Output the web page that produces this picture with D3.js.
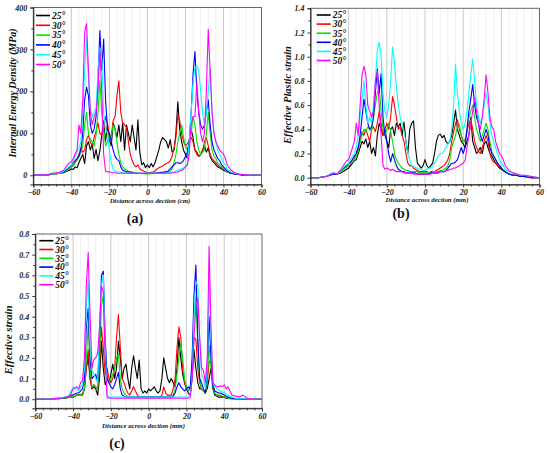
<!DOCTYPE html>
<html>
<head>
<meta charset="utf-8">
<script src="https://cdn.jsdelivr.net/npm/d3@7"></script>
<style>
  body { margin: 0; background: #fff; }
  svg { display: block; }
  text { font-family: "Liberation Serif", "Times New Roman", serif; font-weight: bold; font-style: italic; }
</style>
</head>
<body>
<svg id="chart" width="550" height="453"></svg>
<script>
// sample positions along the section (shared by every series)
const XS = [-60, -56, -52, -50, -48, -46, -44, -42,
  -41, -40, -39, -38, -37, -36, -35, -34, -33, -32,
  -31, -30, -29, -28, -27, -26, -25, -24, -23, -22,
  -21, -20, -19, -18, -17, -16, -15, -14, -13, -12,
  -11, -10, -9, -8, -7, -6, -5, -4, -3, -2,
  -1, 0, 1, 2, 3, 4, 5, 6, 7, 8,
  9, 10, 11, 12, 13, 14, 15, 16, 17, 18,
  19, 20, 21, 22, 23, 24, 25, 26, 27, 28,
  29, 30, 31, 32, 33, 34, 35, 36, 37, 38,
  39, 40, 41,
  42, 44, 46, 48, 50, 52, 56, 60];

const ANGLES = ['25°', '30°', '35°', '40°', '45°', '50°'];
const COLORS = ['#000000', '#ff0000', '#00e400', '#0000ff', '#00ffff', '#ff00ff'];

// (a) internal energy density, MPa
const IED_25 = [0,0,1,4,3,5,6,10,
  12,15,14,20,18,30,40,50,28,70,
  80,60,75,40,62,35,58,95,130,80,
  120,85,70,125,110,90,120,80,125,60,
  120,100,80,120,90,60,132,55,25,30,
  18,25,18,28,20,30,45,60,80,90,
  85,80,65,85,55,60,100,175,110,80,
  60,50,40,75,110,90,60,55,45,50,
  60,70,55,65,45,35,30,25,20,18,
  15,12,10,
  8,5,3,2,1,0,0,0];
const IED_30 = [0,0,1,3,4,5,8,12,
  15,20,25,30,40,50,65,55,60,85,
  95,80,70,90,105,125,100,95,110,140,
  125,85,95,130,140,190,225,150,125,120,
  115,80,50,35,25,20,25,15,12,10,
  8,6,5,7,8,10,15,18,20,22,
  25,28,30,35,45,65,90,145,130,100,
  80,70,75,85,90,80,60,50,45,50,
  55,80,90,70,50,40,35,30,25,20,
  18,15,12,
  8,5,3,2,1,0,0,0];
const IED_35 = [0,0,1,3,3,5,7,12,
  15,20,22,30,35,45,55,70,120,150,
  100,85,80,70,95,150,225,150,110,70,
  80,100,90,120,110,80,50,30,20,15,
  12,10,8,8,6,6,5,5,4,4,
  3,3,3,4,4,5,5,5,6,6,
  7,8,9,10,15,30,50,80,100,120,
  90,70,60,80,100,140,120,80,60,50,
  55,60,100,150,100,60,45,40,30,25,
  20,15,12,
  8,5,3,2,1,0,0,0];
const IED_40 = [0,1,2,4,5,5,8,15,
  20,25,30,35,40,45,60,100,180,210,
  190,120,100,110,140,220,345,250,325,180,
  110,100,80,60,45,38,35,20,12,10,
  8,8,7,6,5,5,5,5,5,5,
  5,5,5,5,5,5,6,6,7,7,
  8,8,10,15,20,25,30,30,28,30,
  35,45,55,80,150,240,295,200,150,120,
  110,120,150,180,120,80,60,50,40,35,
  25,20,15,
  10,5,3,2,1,0,0,0];
const IED_45 = [0,1,2,4,5,5,10,18,
  22,25,35,45,55,65,80,150,250,330,
  230,160,140,150,160,250,304,280,150,110,
  100,60,30,15,10,9,8,7,6,6,
  5,5,5,5,5,5,5,5,5,5,
  5,5,5,5,5,5,5,5,5,5,
  5,5,6,6,7,8,10,12,14,15,
  18,20,30,80,150,220,256,260,250,200,
  150,120,150,200,257,150,100,80,60,50,
  40,30,25,
  15,8,5,3,2,1,0,0];
const IED_50 = [0,1,2,5,6,8,12,25,
  30,32,40,50,60,120,100,180,340,362,
  250,150,120,140,150,200,300,200,50,10,
  8,8,7,6,6,5,5,5,5,5,
  5,5,5,5,5,5,5,5,5,5,
  5,5,5,5,5,5,5,5,5,5,
  5,5,5,5,6,6,7,8,10,12,
  15,20,25,50,120,140,140,222,150,100,
  80,100,200,348,250,150,100,80,70,60,
  55,50,40,
  25,12,6,3,2,1,0,0];

// (b) effective plastic strain
const EPS_25 = [0,0,0.01,0.02,0.03,0.03,0.04,0.06,
  0.07,0.08,0.1,0.12,0.14,0.15,0.2,0.25,0.3,0.28,
  0.32,0.25,0.3,0.2,0.25,0.18,0.35,0.45,0.4,0.35,
  0.4,0.3,0.25,0.4,0.42,0.35,0.45,0.42,0.45,0.35,
  0.46,0.3,0.2,0.4,0.45,0.47,0.25,0.12,0.1,0.08,
  0.1,0.15,0.1,0.08,0.1,0.12,0.2,0.3,0.35,0.36,
  0.33,0.35,0.3,0.28,0.3,0.35,0.45,0.56,0.4,0.35,
  0.3,0.28,0.25,0.3,0.35,0.5,0.3,0.25,0.2,0.22,
  0.25,0.2,0.28,0.3,0.25,0.2,0.18,0.15,0.12,0.1,
  0.08,0.07,0.06,
  0.05,0.03,0.02,0.02,0.01,0.01,0,0];
const EPS_30 = [0,0,0.01,0.02,0.03,0.03,0.05,0.08,
  0.09,0.1,0.12,0.15,0.17,0.2,0.25,0.3,0.38,0.35,
  0.4,0.35,0.3,0.4,0.42,0.38,0.45,0.55,0.45,0.35,
  0.4,0.45,0.4,0.5,0.67,0.6,0.5,0.4,0.42,0.35,
  0.3,0.2,0.12,0.1,0.1,0.08,0.07,0.06,0.05,0.05,
  0.05,0.05,0.05,0.04,0.05,0.05,0.05,0.06,0.07,0.08,
  0.09,0.1,0.12,0.15,0.2,0.3,0.38,0.45,0.48,0.4,
  0.35,0.3,0.3,0.38,0.45,0.48,0.4,0.3,0.25,0.22,
  0.2,0.25,0.3,0.35,0.3,0.2,0.15,0.13,0.12,0.1,
  0.09,0.08,0.06,
  0.05,0.03,0.02,0.02,0.01,0.01,0,0];
const EPS_35 = [0,0,0.01,0.02,0.03,0.03,0.05,0.08,
  0.09,0.1,0.12,0.13,0.15,0.18,0.22,0.3,0.35,0.4,
  0.38,0.42,0.4,0.38,0.5,0.6,0.7,0.75,0.55,0.4,
  0.35,0.4,0.45,0.38,0.3,0.2,0.15,0.12,0.1,0.08,
  0.07,0.06,0.06,0.05,0.05,0.05,0.05,0.05,0.04,0.04,
  0.04,0.04,0.04,0.04,0.04,0.05,0.05,0.05,0.05,0.06,
  0.06,0.07,0.08,0.1,0.15,0.25,0.3,0.35,0.42,0.44,
  0.35,0.3,0.32,0.4,0.5,0.55,0.6,0.5,0.4,0.35,
  0.3,0.35,0.4,0.45,0.4,0.3,0.22,0.18,0.15,0.12,
  0.1,0.08,0.06,
  0.05,0.03,0.02,0.02,0.01,0.01,0,0];
const EPS_40 = [0,0,0.01,0.02,0.03,0.03,0.06,0.09,
  0.1,0.12,0.13,0.15,0.18,0.2,0.25,0.35,0.5,0.65,
  0.55,0.45,0.4,0.42,0.5,0.7,0.9,0.7,0.86,0.5,
  0.35,0.3,0.2,0.13,0.2,0.15,0.1,0.07,0.06,0.05,
  0.05,0.04,0.04,0.04,0.04,0.04,0.04,0.03,0.03,0.03,
  0.03,0.03,0.03,0.03,0.04,0.04,0.04,0.04,0.04,0.05,
  0.05,0.05,0.06,0.08,0.1,0.12,0.12,0.13,0.15,0.2,
  0.25,0.2,0.25,0.4,0.55,0.65,0.77,0.6,0.5,0.45,
  0.35,0.3,0.35,0.4,0.35,0.25,0.2,0.18,0.15,0.12,
  0.1,0.08,0.06,
  0.05,0.03,0.02,0.02,0.01,0.01,0,0];
const EPS_45 = [0,0,0.01,0.03,0.04,0.03,0.06,0.1,
  0.11,0.12,0.15,0.18,0.2,0.25,0.35,0.5,0.65,0.8,
  0.6,0.45,0.5,0.45,0.6,0.8,1.05,1.12,1.0,0.7,
  0.55,0.5,0.6,0.8,1.08,0.95,0.75,0.6,0.5,0.45,
  0.38,0.3,0.2,0.15,0.1,0.09,0.08,0.08,0.07,0.07,
  0.06,0.06,0.07,0.08,0.08,0.1,0.12,0.15,0.18,0.2,
  0.2,0.22,0.25,0.28,0.3,0.4,0.6,0.94,0.7,0.55,
  0.45,0.4,0.45,0.55,0.7,0.85,0.98,0.8,0.6,0.5,
  0.45,0.5,0.6,0.7,0.6,0.45,0.35,0.3,0.25,0.2,
  0.15,0.12,0.1,
  0.07,0.05,0.04,0.03,0.02,0.02,0.01,0];
const EPS_50 = [0,0,0.01,0.02,0.04,0.03,0.07,0.12,
  0.14,0.15,0.2,0.25,0.3,0.45,0.35,0.6,0.85,0.92,
  0.85,0.6,0.55,0.5,0.55,0.8,0.88,0.6,0.35,0.1,
  0.07,0.08,0.07,0.06,0.07,0.06,0.05,0.05,0.05,0.05,
  0.04,0.04,0.04,0.04,0.04,0.03,0.03,0.03,0.03,0.03,
  0.03,0.03,0.03,0.03,0.03,0.04,0.04,0.04,0.04,0.05,
  0.05,0.05,0.06,0.06,0.07,0.07,0.08,0.08,0.09,0.1,
  0.11,0.12,0.14,0.25,0.35,0.45,0.55,0.66,0.55,0.45,
  0.4,0.5,0.65,0.85,0.7,0.5,0.42,0.4,0.3,0.25,
  0.2,0.18,0.15,
  0.1,0.06,0.04,0.03,0.02,0.02,0.01,0];

// (c) effective strain
const ES_25 = [0,0,0,0.002,0.003,0.004,0.005,0.01,
  0.01,0.01,0.015,0.02,0.02,0.02,0.02,0.05,0.15,0.2,
  0.1,0.05,0.06,0.05,0.02,0.1,0.28,0.15,0.07,0.1,
  0.08,0.12,0.17,0.1,0.15,0.28,0.2,0.1,0.15,0.17,
  0.1,0.05,0.15,0.21,0.15,0.1,0.19,0.05,0.03,0.04,
  0.03,0.05,0.04,0.05,0.06,0.04,0.03,0.04,0.1,0.2,
  0.15,0.1,0.08,0.1,0.08,0.06,0.15,0.3,0.2,0.12,
  0.08,0.05,0.03,0.02,0.1,0.24,0.15,0.08,0.05,0.05,
  0.04,0.03,0.05,0.1,0.15,0.05,0.02,0.015,0.01,0.01,
  0.01,0.01,0.005,
  0.004,0.003,0.002,0.001,0,0,0,0];
const ES_30 = [0,0,0,0.002,0.003,0.004,0.006,0.01,
  0.01,0.01,0.015,0.02,0.02,0.02,0.03,0.05,0.15,0.24,
  0.1,0.05,0.07,0.06,0.05,0.15,0.35,0.25,0.12,0.15,
  0.1,0.08,0.1,0.15,0.3,0.41,0.25,0.1,0.08,0.05,
  0.03,0.02,0.04,0.06,0.04,0.02,0.01,0.01,0.01,0.01,
  0.01,0.01,0.01,0.01,0.01,0.01,0.01,0.01,0.02,0.06,
  0.03,0.02,0.02,0.02,0.05,0.1,0.25,0.35,0.3,0.15,
  0.08,0.05,0.04,0.06,0.1,0.3,0.29,0.15,0.08,0.05,
  0.04,0.03,0.08,0.18,0.19,0.08,0.03,0.02,0.02,0.015,
  0.01,0.01,0.01,
  0.005,0.003,0.002,0.001,0,0,0,0];
const ES_35 = [0,0,0,0.002,0.003,0.004,0.006,0.01,
  0.01,0.01,0.015,0.02,0.02,0.02,0.02,0.05,0.2,0.36,
  0.15,0.06,0.07,0.06,0.05,0.2,0.45,0.5,0.2,0.1,
  0.08,0.1,0.12,0.15,0.2,0.22,0.1,0.05,0.03,0.02,
  0.01,0.01,0.01,0.01,0.01,0.01,0.01,0.01,0.01,0.01,
  0.01,0.01,0.01,0.01,0.01,0.01,0.01,0.01,0.01,0.01,
  0.01,0.01,0.01,0.01,0.02,0.05,0.12,0.2,0.27,0.2,
  0.1,0.06,0.04,0.05,0.15,0.4,0.5,0.25,0.1,0.05,
  0.04,0.03,0.1,0.26,0.15,0.05,0.03,0.02,0.02,0.02,
  0.015,0.01,0.01,
  0.005,0.003,0.002,0.001,0,0,0,0];
const ES_40 = [0,0,0,0.002,0.004,0.005,0.008,0.015,
  0.02,0.02,0.025,0.03,0.03,0.04,0.05,0.1,0.35,0.44,
  0.2,0.1,0.11,0.12,0.08,0.3,0.6,0.62,0.3,0.1,
  0.08,0.06,0.05,0.07,0.1,0.13,0.05,0.02,0.015,0.01,
  0.01,0.01,0.01,0.01,0.01,0.01,0.01,0.01,0.01,0.01,
  0.01,0.01,0.01,0.01,0.01,0.01,0.01,0.01,0.01,0.01,
  0.01,0.01,0.01,0.01,0.015,0.03,0.06,0.08,0.06,0.05,
  0.04,0.05,0.06,0.05,0.2,0.5,0.65,0.3,0.1,0.08,
  0.05,0.03,0.15,0.4,0.2,0.06,0.04,0.035,0.03,0.03,
  0.025,0.02,0.015,
  0.01,0.005,0.003,0.002,0.001,0,0,0];
const ES_45 = [0,0,0,0.003,0.005,0.006,0.01,0.02,
  0.04,0.06,0.05,0.05,0.04,0.06,0.07,0.15,0.45,0.57,
  0.25,0.14,0.12,0.1,0.08,0.35,0.55,0.6,0.25,0.02,
  0.01,0.01,0.01,0.01,0.01,0.01,0.01,0.01,0.01,0.01,
  0.01,0.01,0.01,0.01,0.01,0.01,0.01,0.01,0.01,0.01,
  0.01,0.01,0.01,0.01,0.01,0.01,0.01,0.01,0.01,0.01,
  0.01,0.01,0.01,0.01,0.01,0.01,0.01,0.01,0.01,0.01,
  0.01,0.01,0.015,0.02,0.1,0.4,0.57,0.55,0.3,0.12,
  0.1,0.05,0.15,0.57,0.3,0.08,0.06,0.05,0.045,0.04,
  0.035,0.03,0.025,
  0.02,0.01,0.005,0.003,0.002,0.001,0,0];
const ES_50 = [0,0,0,0.003,0.005,0.006,0.01,0.01,
  0.03,0.05,0.055,0.06,0.05,0.08,0.09,0.2,0.55,0.71,
  0.4,0.15,0.19,0.2,0.22,0.35,0.55,0.52,0.2,0.01,
  0.005,0.005,0.005,0.005,0.005,0.005,0.005,0.005,0.005,0.005,
  0.005,0.005,0.005,0.005,0.005,0.005,0.005,0.005,0.005,0.005,
  0.005,0.005,0.005,0.005,0.005,0.005,0.005,0.005,0.005,0.005,
  0.005,0.005,0.005,0.005,0.005,0.005,0.005,0.005,0.005,0.005,
  0.005,0.005,0.005,0.01,0.1,0.3,0.45,0.49,0.3,0.15,
  0.14,0.08,0.2,0.74,0.35,0.08,0.07,0.06,0.06,0.065,
  0.06,0.07,0.05,
  0.06,0.02,0.015,0.01,0.02,0.005,0,0];

const X_MAJOR = [-60, -40, -20, 0, 20, 40, 60];

const svg = d3.select('#chart');

const panels = [
  {
    id: 'a', left: 33.3, right: 261.5, top: 7.5, bottom: 184.5,
    yDomain: [-22, 400], yTicks: [0, 100, 200, 300, 400], yMinor: [50, 150, 250, 350],
    yFormat: d3.format('d'),
    yTitle: 'Internal Energy Density (MPa)', yTitleX: 15.5, yTitleY: 93, yTitleSize: 10,
    xTitle: 'Distance across dection (cm)', xTitleX: 150, xTitleY: 203,
    label: '(a)', labelX: 135, labelY: 223,
    legendX: 36, legendY: 15.5, legendStep: 9.8,
    series: [IED_25, IED_30, IED_35, IED_40, IED_45, IED_50],
  },
  {
    id: 'b', left: 310.5, right: 539.5, top: 8.3, bottom: 184.5,
    yDomain: [-0.056, 1.4], yTicks: d3.range(0, 1.41, 0.2), yMinor: d3.range(0.1, 1.4, 0.2),
    yFormat: d3.format('.1f'),
    yTitle: 'Effective Plastic strain', yTitleX: 291, yTitleY: 95, yTitleSize: 10.5,
    xTitle: 'Distance across dection (mm)', xTitleX: 427, xTitleY: 202,
    label: '(b)', labelX: 401, labelY: 218,
    legendX: 316.7, legendY: 15, legendStep: 9.1,
    series: [EPS_25, EPS_30, EPS_35, EPS_40, EPS_45, EPS_50],
  },
  {
    id: 'c', left: 35.3, right: 262, top: 234, bottom: 408.3,
    yDomain: [-0.044, 0.8], yTicks: d3.range(0, 0.81, 0.1), yMinor: d3.range(0.05, 0.8, 0.1),
    yFormat: d3.format('.1f'),
    yTitle: 'Effective strain', yTitleX: 12, yTitleY: 340, yTitleSize: 11,
    xTitle: 'Distance across dection (mm)', xTitleX: 143.5, xTitleY: 428,
    label: '(c)', labelX: 117, labelY: 448,
    legendX: 39.3, legendY: 240.7, legendStep: 8.8,
    series: [ES_25, ES_30, ES_35, ES_40, ES_45, ES_50],
  },
];

panels.forEach(drawPanel);

function drawPanel(p) {
  const g = svg.append('g').attr('class', 'panel-' + p.id);
  const x = d3.scaleLinear().domain([-60, 60]).range([p.left, p.right]);
  const y = d3.scaleLinear().domain(p.yDomain).range([p.bottom, p.top]);

  // vertical grid: light every 4 units, darker on the majors
  const minorX = d3.range(-56, 57, 4).filter(v => v % 20 !== 0);
  g.append('g').selectAll('line').data(minorX).join('line')
    .attr('x1', d => x(d)).attr('x2', d => x(d))
    .attr('y1', p.top).attr('y2', p.bottom)
    .attr('stroke', '#ececec').attr('stroke-width', 0.8);
  g.append('g').selectAll('line').data([-40, -20, 0, 20, 40]).join('line')
    .attr('x1', d => x(d)).attr('x2', d => x(d))
    .attr('y1', p.top).attr('y2', p.bottom)
    .attr('stroke', '#c8c8c8').attr('stroke-width', 1);

  const clipId = 'clip-' + p.id;
  svg.append('clipPath').attr('id', clipId)
    .append('rect')
      .attr('x', p.left).attr('y', p.top)
      .attr('width', p.right - p.left).attr('height', p.bottom - p.top);

  const line = d3.line()
    .defined(d => d[1] != null)
    .x(d => x(d[0]))
    .y(d => y(d[1]));

  g.append('g').attr('clip-path', `url(#${clipId})`)
    .selectAll('path')
    .data(p.series)
    .join('path')
      .attr('d', vals => line(XS.map((xv, i) => [xv, vals[i]])))
      .attr('fill', 'none')
      .attr('stroke', (d, i) => COLORS[i])
      .attr('stroke-width', 1.1)
      .attr('stroke-linejoin', 'round');

  // frame
  g.append('rect')
    .attr('x', p.left).attr('y', p.top)
    .attr('width', p.right - p.left).attr('height', p.bottom - p.top)
    .attr('fill', 'none').attr('stroke', '#666').attr('stroke-width', 1);

  // axes
  const xAxis = g.append('g')
    .attr('transform', `translate(0,${p.bottom})`)
    .call(d3.axisBottom(x).tickValues(X_MAJOR).tickSize(3).tickPadding(2).tickFormat(d3.format('d')));
  g.append('g')
    .attr('transform', `translate(0,${p.bottom})`)
    .call(d3.axisBottom(x).tickValues(minorX).tickSize(2).tickFormat(''))
    .call(s => s.select('.domain').remove());

  const yAxis = g.append('g')
    .attr('transform', `translate(${p.left},0)`)
    .call(d3.axisLeft(y).tickValues(p.yTicks).tickSize(3).tickPadding(3).tickFormat(p.yFormat));
  g.append('g')
    .attr('transform', `translate(${p.left},0)`)
    .call(d3.axisLeft(y).tickValues(p.yMinor).tickSize(2).tickFormat(''))
    .call(s => s.select('.domain').remove());

  [xAxis, yAxis].forEach(a => {
    a.attr('font-family', '"Liberation Serif", serif');
    a.select('.domain').attr('stroke', '#222');
    a.selectAll('text')
      .attr('font-size', 8)
      .attr('fill', '#222')
      .style('font-family', '"Liberation Serif", serif')
      .style('font-weight', 'bold')
      .style('font-style', 'italic');
  });
  g.selectAll('.tick line').attr('stroke', '#333');

  // legend
  const leg = g.append('g').selectAll('g').data(ANGLES).join('g')
    .attr('transform', (d, i) => `translate(${p.legendX},${p.legendY + i * p.legendStep})`);
  leg.append('line')
    .attr('x1', 0).attr('x2', 14).attr('y1', 0).attr('y2', 0)
    .attr('stroke', (d, i) => COLORS[i]).attr('stroke-width', 1.6);
  leg.append('text')
    .attr('x', 16).attr('y', 3.3)
    .attr('font-size', 9.5).attr('fill', '#111')
    .text(d => d);

  // titles
  g.append('text')
    .attr('transform', `translate(${p.yTitleX},${p.yTitleY}) rotate(-90)`)
    .attr('text-anchor', 'middle')
    .attr('font-size', p.yTitleSize).attr('fill', '#111')
    .text(p.yTitle);
  g.append('text')
    .attr('x', p.xTitleX).attr('y', p.xTitleY)
    .attr('text-anchor', 'middle')
    .attr('font-size', 6.8).attr('fill', '#111')
    .text(p.xTitle);
  g.append('text')
    .attr('x', p.labelX).attr('y', p.labelY)
    .attr('text-anchor', 'middle')
    .attr('font-size', 14).attr('fill', '#111')
    .style('font-style', 'normal')
    .text(p.label);
}
</script>
</body>
</html>
